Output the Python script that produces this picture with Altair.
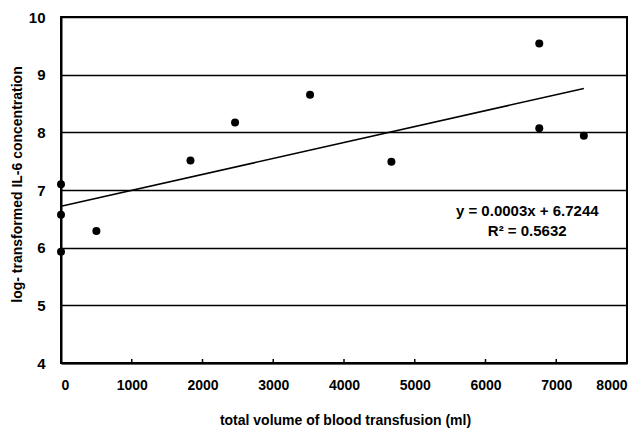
import altair as alt
import pandas as pd

# ---- data ----
volume_ml = [0, 0, 0, 500, 1830, 2460, 3520, 4670, 6760, 6760, 7390]
log_il6 = [7.10, 6.57, 5.93, 6.29, 7.51, 8.17, 8.65, 7.49, 9.54, 8.07, 7.94]
x_ticks = [0, 1000, 2000, 3000, 4000, 5000, 6000, 7000, 8000]
y_ticks = [4, 5, 6, 7, 8, 9, 10]
eq_text = ["y = 0.0003x + 6.7244", "R² = 0.5632"]
eq_x = [6590, 6590]
eq_y = [6.64, 6.29]

FONT = "Liberation Sans"

pts = pd.DataFrame({"volume": volume_ml, "il6": log_il6})
ticks_df = pd.DataFrame({"t": x_ticks})
eq_df = pd.DataFrame({"label": eq_text, "x": eq_x, "y": eq_y})

xscale = alt.Scale(domain=[0, 8000], nice=False)
yscale = alt.Scale(domain=[4, 10], nice=False, zero=False)

xaxis = alt.Axis(
    values=x_ticks, format="d", grid=False, ticks=False, tickSize=0,
    labelPadding=15, labelFontSize=14, labelFont=FONT, labelFontWeight="bold",
    labelColor="black", domainColor="black", domainWidth=2,
    title="total volume of blood transfusion (ml)",
    titleFont=FONT, titleFontSize=14, titleFontWeight="bold", titleColor="black",
    titleX=284, titleY=57, titleBaseline="middle", titleAlign="center",
)
yaxis = alt.Axis(
    values=y_ticks, format="d", grid=True, gridColor="black", gridWidth=1.6,
    gridOpacity=1, ticks=False, tickSize=0,
    labelPadding=16, labelFontSize=15, labelFont=FONT, labelFontWeight="bold",
    labelColor="black", domainColor="black", domainWidth=2,
    title="log- transformed IL-6 concentration",
    titleFont=FONT, titleFontSize=14, titleFontWeight="bold", titleColor="black",
    titleX=-44, titleY=167, titleAngle=270, titleBaseline="middle", titleAlign="center",
)

base = alt.Chart(pts)

points = base.mark_circle(size=64, color="black", opacity=1).encode(
    x=alt.X("volume:Q", scale=xscale, axis=xaxis),
    y=alt.Y("il6:Q", scale=yscale, axis=yaxis),
)

trend = base.transform_regression("volume", "il6").mark_line(
    color="black", strokeWidth=1.5
).encode(
    x=alt.X("volume:Q", scale=xscale),
    y=alt.Y("il6:Q", scale=yscale),
)

inner_ticks = alt.Chart(ticks_df).mark_rule(color="black", strokeWidth=1.5).encode(
    x=alt.X("t:Q", scale=xscale),
    y=alt.value(346),
    y2=alt.value(342),
)

eq = alt.Chart(eq_df).mark_text(
    font=FONT, fontSize=15, fontWeight="bold", color="black",
    align="center", baseline="middle",
).encode(
    x=alt.X("x:Q", scale=xscale),
    y=alt.Y("y:Q", scale=yscale),
    text="label:N",
)

chart = (
    alt.layer(trend, points, inner_ticks, eq)
    .properties(
        width=566, height=346,
        autosize=alt.AutoSizeParams(type="none"),
        padding={"left": 61, "top": 17, "right": 17, "bottom": 69},
        background="white",
    )
    .configure_view(stroke="black", strokeWidth=2)
)

chart.save("out.html", embed_options={"renderer": "svg", "actions": False})
